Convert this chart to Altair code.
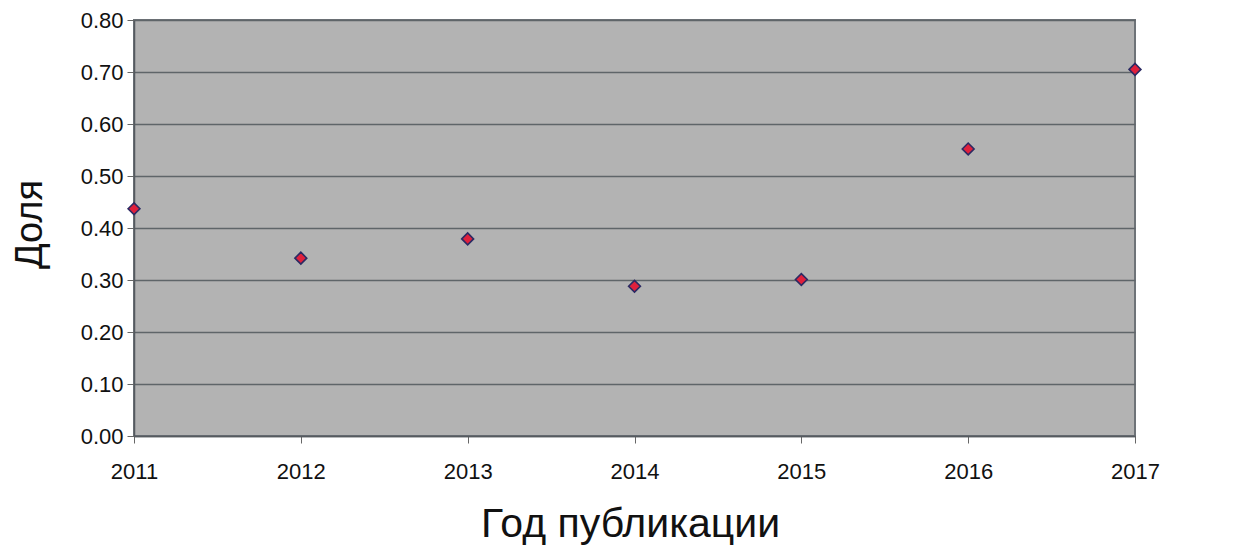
import altair as alt
import pandas as pd

years = [2011, 2012, 2013, 2014, 2015, 2016, 2017]
shares = [0.437, 0.342, 0.379, 0.288, 0.301, 0.552, 0.705]

df = pd.DataFrame({"year": years, "share": shares})

FONT = "Liberation Sans"

chart = alt.Chart(df).mark_point(
    shape="diamond", filled=True, fill="#e0203c", stroke="#2b2a63",
    strokeWidth=1.6, size=140, opacity=1
).encode(
    x=alt.X("year:Q", scale=alt.Scale(domain=[2011, 2017], nice=False, zero=False),
            axis=alt.Axis(values=years, format="d", title="Год публикации",
                          grid=False, tickSize=7, tickColor="#666666", domainColor="#555a5f",
                          domainWidth=1.5, labelFontSize=22, labelPadding=18, labelFlush=False,
                          labelFont=FONT, labelColor="#111111",
                          titleFont=FONT, titleFontSize=41, titleFontWeight="normal",
                          titleColor="#111111", titleX=496, titleY=100,
                          titleBaseline="alphabetic", titleAlign="center")),
    y=alt.Y("share:Q", scale=alt.Scale(domain=[0, 0.8], nice=False),
            axis=alt.Axis(values=[0, 0.1, 0.2, 0.3, 0.4, 0.5, 0.6, 0.7, 0.8], format=".2f",
                          title="Доля", grid=True, gridColor="#5f6569", gridWidth=1.5,
                          tickSize=7, tickColor="#666666", domainColor="#555a5f", domainWidth=1.5,
                          labelFontSize=22, labelPadding=4, labelFont=FONT, labelColor="#111111",
                          titleFont=FONT, titleFontSize=38, titleFontWeight="normal",
                          titleColor="#111111", titleAngle=-90, titleX=-93, titleY=204,
                          titleBaseline="alphabetic", titleAlign="center")),
).properties(
    width=1001, height=416,
    background="white",
    autosize=alt.AutoSizeParams(type="none"),
    padding={"left": 126, "top": 12, "right": 80, "bottom": 110},
).configure_view(
    fill="#b3b3b3", stroke="#6e7378", strokeWidth=2
)

chart.save("out.html", embed_options={"renderer": "svg", "actions": False})
